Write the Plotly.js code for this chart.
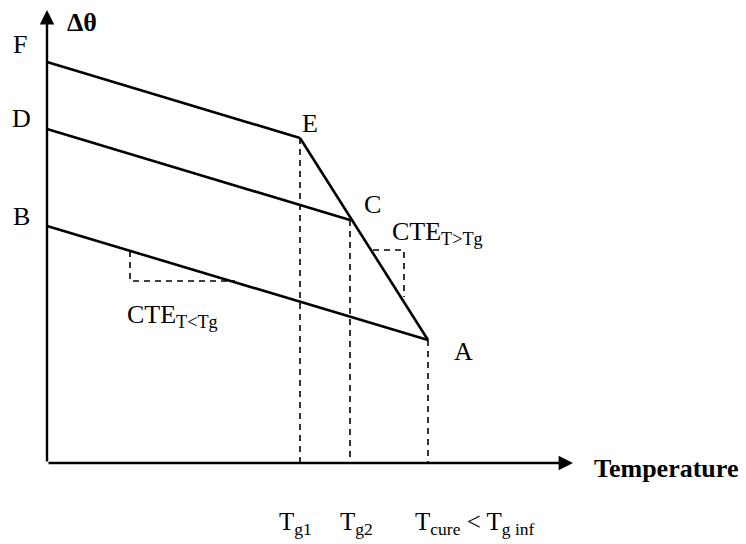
<!DOCTYPE html>
<html><head><meta charset="utf-8">
<script src="https://cdn.plot.ly/plotly-3.0.1.min.js"></script>
<style>body{margin:0;background:#fff}#c{width:746px;height:544px}</style>
</head><body><div id="c"></div>
<script>
// Schematic values (arbitrary units: temperature on x, Δθ on y)
const lineNames = ['F-E', 'D-C', 'B-A', 'E-A'];
const lineX = [[0, 253], [0, 303], [0, 381], [253, 381]];
const lineY = [[401, 325], [334, 243], [237, 123], [325, 123]];
const dashX = [[253, 253], [303, 303], [381, 381], [83, 83, 188], [326, 357, 357]];
const dashY = [[325, 0], [243, 0], [123, 0], [212, 182, 182], [213, 213, 166]];
const axisEnd = {x: 526, y: 453};
const pointLabels = ['F', 'D', 'B', 'E', 'C', 'A'];
const pointLabelX = [-27, -26, -26, 263, 325, 416];
const pointLabelY = [419, 345, 247, 340, 259, 112];
const slopeLabels = ['CTE<sub>T&gt;Tg</sub>', 'CTE<sub>T&lt;Tg</sub>'];
const slopeLabelX = [390, 125];
const slopeLabelY = [230, 147];
const tickLabels = ['T<sub>g1</sub>', 'T<sub>g2</sub>', 'T<sub>cure</sub> &lt; T<sub>g inf</sub>'];
const tickLabelX = [248, 309, 428];
const tickLabelY = [-60, -60, -60];

const traces = [];
lineX.forEach((xs, i) => traces.push({x: xs, y: lineY[i], mode: 'lines', name: lineNames[i],
  line: {color: '#000', width: 2.6}, hoverinfo: 'skip'}));
dashX.forEach((xs, i) => traces.push({x: xs, y: dashY[i], mode: 'lines',
  line: {color: '#000', width: 1.6, dash: '6px,5px'}, hoverinfo: 'skip'}));

const serif = '"Liberation Serif", "Times New Roman", serif';
const ann = [];
ann.push({x: axisEnd.x, y: 0, ax: 0, ay: 0, xref: 'x', yref: 'y', axref: 'x', ayref: 'y',
  showarrow: true, arrowhead: 2, arrowsize: 1.2, arrowwidth: 2.4, arrowcolor: '#000', text: ''});
ann.push({x: 0, y: axisEnd.y, ax: 0, ay: 0, xref: 'x', yref: 'y', axref: 'x', ayref: 'y',
  showarrow: true, arrowhead: 2, arrowsize: 1.2, arrowwidth: 2.4, arrowcolor: '#000', text: ''});
pointLabels.forEach((t, i) => ann.push({x: pointLabelX[i], y: pointLabelY[i], text: t, showarrow: false,
  font: {family: serif, size: 26, color: '#000'}}));
slopeLabels.forEach((t, i) => ann.push({x: slopeLabelX[i], y: slopeLabelY[i], text: t, showarrow: false,
  font: {family: serif, size: 26, color: '#000'}}));
tickLabels.forEach((t, i) => ann.push({x: tickLabelX[i], y: tickLabelY[i], text: t, showarrow: false,
  font: {family: serif, size: 25, color: '#000'}}));
ann.push({x: 35, y: 441, text: '<b>Δθ</b>', showarrow: false, font: {family: serif, size: 26, color: '#000'}});
ann.push({x: 619, y: -5, text: '<b>Temperature</b>', showarrow: false, font: {family: serif, size: 26, color: '#000'}});

const layout = {
  width: 746, height: 544, margin: {l: 0, r: 0, t: 0, b: 0},
  paper_bgcolor: '#fff', plot_bgcolor: '#fff', showlegend: false,
  xaxis: {range: [-47, 699], visible: false, fixedrange: true},
  yaxis: {range: [-81, 463], visible: false, fixedrange: true},
  annotations: ann
};
Plotly.newPlot('c', traces, layout, {displayModeBar: false, staticPlot: true});
</script></body></html>
